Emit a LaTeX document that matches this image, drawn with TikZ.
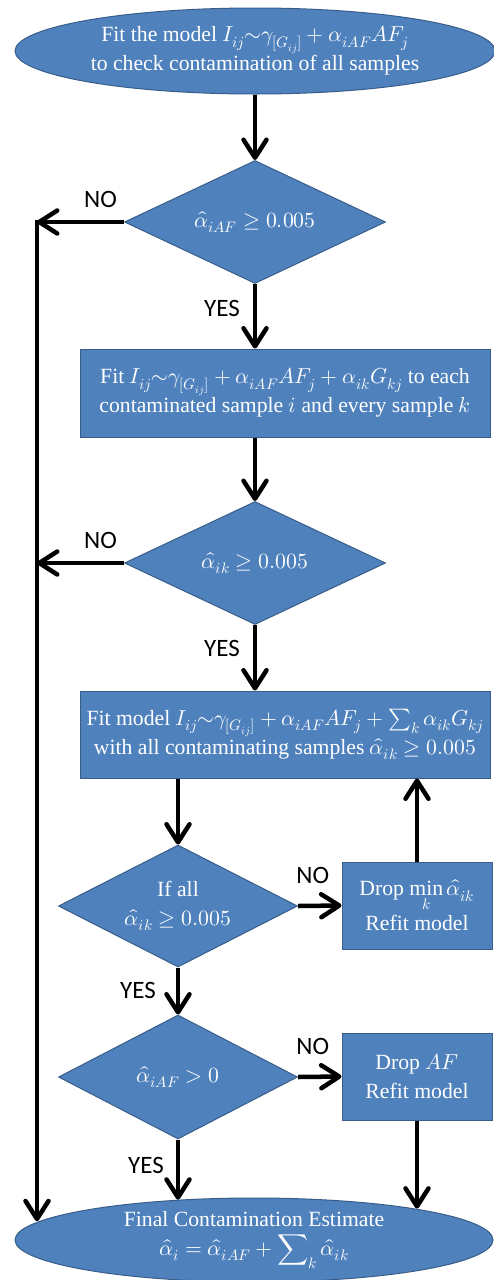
\documentclass[tikz,border=0pt]{standalone}
\usepackage{fontspec}
\usepackage{unicode-math}
\setmainfont{Liberation Serif}
\newfontfamily\lblfont{Carlito}
\usetikzlibrary{shapes.geometric,arrows.meta}
\definecolor{boxblue}{HTML}{4F81BD}
\definecolor{boxedge}{HTML}{385D8A}
\newcommand{\tld}{\mathord{\sim}}
\tikzset{
  base/.style={fill=boxblue, draw=boxedge, line width=1pt, text=white, inner sep=0pt,
    align=center, font=\fontsize{21.7}{29}\selectfont},
  oval/.style={base, ellipse},
  test/.style={base, diamond, aspect=2},
  stepbox/.style={base, rectangle},
  flow/.style={line width=4.5pt, -{Straight Barb[length=18pt,width=23pt,round]}},
  yn/.style={font=\lblfont\fontsize{25}{30}\selectfont, inner sep=1pt},
}

\begin{document}
\begin{tikzpicture}[x=1pt,y=1pt]
    \useasboundingbox (0,0) rectangle (493,-1280);

    \node[oval, minimum width=480pt, minimum height=86pt] (start) at (255,-51)
      {Fit the model $I_{ij}\tld\gamma_{[G_{ij}]}+\alpha_{iAF}AF_j$\\to check contamination of all samples};
    \node[test, minimum width=261pt, minimum height=123pt] (chkaf) at (255,-222) {$\hat\alpha_{iAF}\geq 0.005$};
    \node[stepbox, minimum width=410pt, minimum height=88pt] (fitk) at (285,-393)
      {Fit $I_{ij}\tld\gamma_{[G_{ij}]}+\alpha_{iAF}AF_j+\alpha_{ik}G_{kj}$ to each\\contaminated sample $i$ and every sample $k$};
    \node[test, minimum width=261pt, minimum height=123pt] (chkk) at (255,-563) {$\hat\alpha_{ik}\geq 0.005$};
    \node[stepbox, minimum width=410pt, minimum height=87pt] (fitall) at (285,-734.5)
      {Fit model $I_{ij}\tld\gamma_{[G_{ij}]}+\alpha_{iAF}AF_j+\sum_k\alpha_{ik}G_{kj}$\\with all contaminating samples $\hat\alpha_{ik}\geq 0.005$};
    \node[test, minimum width=239pt, minimum height=122pt] (allk) at (178,-906) {If all\\$\hat\alpha_{ik}\geq 0.005$};
    \node[stepbox, minimum width=150pt, minimum height=87pt] (dropk) at (417,-905.5)
      {Drop $\min\limits_k\hat\alpha_{ik}$\\[2pt]Refit model};
    \node[test, minimum width=239pt, minimum height=124pt] (posaf) at (178,-1077) {$\hat\alpha_{iAF}>0$};
    \node[stepbox, minimum width=150pt, minimum height=87pt] (dropaf) at (417,-1076.5) {Drop $AF$\\Refit model};
    \node[oval, minimum width=478pt, minimum height=84pt] (final) at (254,-1240)
      {Final Contamination Estimate\\$\hat\alpha_i=\hat\alpha_{iAF}+\displaystyle\sum\nolimits_k\hat\alpha_{ik}$};

    \coordinate (rail) at (37,-222);

    \draw[flow] (start.south) -- (chkaf.north);
    \draw[flow] (chkaf.west) -- (rail) node[yn, pos=0.27, above=11pt] {NO};
    \draw[flow, shorten <=-2.25pt] (rail) -- (rail |- final.175);
    \draw[flow] (chkaf.south) -- (chkaf.south |- fitk.north) node[yn, pos=0.38, left=12pt] {YES};
    \draw[flow] (chkk.north |- fitk.south) -- (chkk.north);
    \draw[flow] (chkk.west) -- (chkk.west -| rail) node[yn, pos=0.27, above=11pt] {NO};
    \draw[flow] (chkk.south) -- (chkk.south |- fitall.north) node[yn, pos=0.36, left=12pt] {YES};
    \draw[flow] (allk.north |- fitall.south) -- (allk.north);
    \draw[flow] (allk.east) -- (dropk.west) node[yn, pos=0.34, above=19pt] {NO};
    \draw[flow] (dropk.north) -- (dropk.north |- fitall.south);
    \draw[flow] (allk.south) -- (posaf.north) node[yn, pos=0.49, left=19pt] {YES};
    \draw[flow] (posaf.east) -- (dropaf.west) node[yn, pos=0.34, above=19pt] {NO};
    \draw[flow] (posaf.south) -- (posaf.south |- final.152) node[yn, pos=0.43, left=11pt] {YES};
    \draw[flow] (dropaf.south) -- (dropaf.south |- final.11);
\end{tikzpicture}
\end{document}
